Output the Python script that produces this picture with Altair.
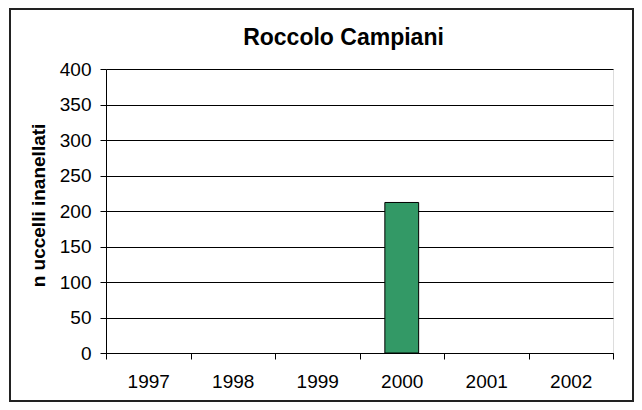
import altair as alt
import pandas as pd

years = ["1997", "1998", "1999", "2000", "2001", "2002"]
values = [0, 0, 0, 212, 0, 0]
y_ticks = [0, 50, 100, 150, 200, 250, 300, 350, 400]
chart_title = "Roccolo Campiani"
y_title = "n uccelli inanellati"

df = pd.DataFrame({"year": years, "value": values})

FONT = "Liberation Sans"

bars = alt.Chart(df).transform_filter(
    alt.datum.value > 0
).mark_bar(
    width={"band": 0.4}, color="#339966", stroke="#000000", strokeWidth=1
).encode(
    x=alt.X(
        "year:O",
        sort=years,
        scale=alt.Scale(domain=years, paddingInner=0, paddingOuter=0),
        axis=alt.Axis(
            title=None, labelAngle=0, tickBand="extent", tickSize=6,
            labelFontSize=19, labelFont=FONT, labelColor="#000000",
            labelPadding=13, domainColor="#000000", tickColor="#000000",
            grid=False,
        ),
    ),
    y=alt.Y(
        "value:Q",
        scale=alt.Scale(domain=[0, 400], nice=False),
        axis=alt.Axis(
            values=y_ticks, title=y_title, grid=True, gridColor="#000000",
            gridOpacity=1, tickSize=6, tickColor="#000000", domainColor="#000000",
            labelFontSize=19, labelFont=FONT, labelColor="#000000", labelPadding=9,
            titleFont=FONT, titleFontSize=19, titleFontWeight="bold",
            titleColor="#000000", titleX=-68, titleY=136, titleAngle=270,
            titleAlign="center", titleBaseline="middle",
        ),
    ),
)

border = alt.Chart(alt.Data(values=[{"k": 1}])).mark_rect(
    fillOpacity=0, stroke="#222222", strokeWidth=2, clip=False
).encode(
    x=alt.value(-96), x2=alt.value(527), y=alt.value(-60), y2=alt.value(332)
)

chart = alt.layer(border, bars).properties(
    width=507,
    height=284,
    title=alt.TitleParams(
        text=chart_title, font=FONT, fontSize=23, fontWeight="bold",
        color="#000000", anchor="middle", frame="group", dx=-16,
        baseline="alphabetic", offset=-60,
    ),
    autosize=alt.AutoSizeParams(type="none"),
    padding={"left": 98, "top": 61, "right": 21, "bottom": 49},
).configure_view(
    stroke="#9a9a9a", strokeWidth=1
).configure(background="white")

chart.save("out.html", embed_options={"renderer": "svg", "actions": False})
